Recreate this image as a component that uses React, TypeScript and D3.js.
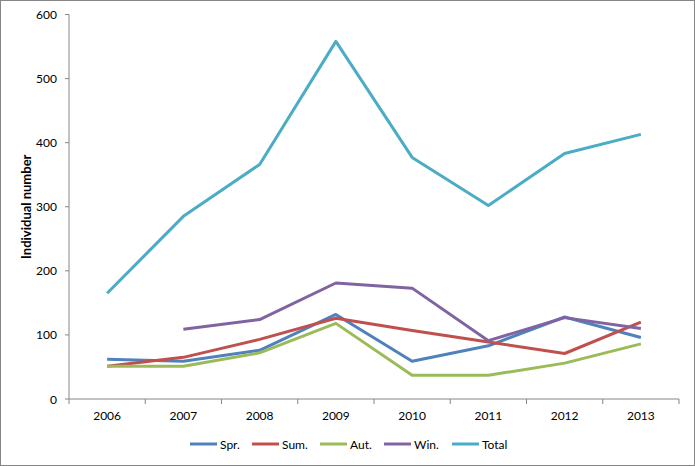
import React from "react";
import * as d3 from "d3";

const years = ["2006", "2007", "2008", "2009", "2010", "2011", "2012", "2013"];
const spr = [62, 59, 76, 132, 59, 83, 128, 96];
const sum = [51, 65, 93, 126, 107, 89, 71, 120];
const aut = [51, 51, 72, 118, 37, 37, 56, 86];
const win: (number | null)[] = [null, 109, 124, 181, 173, 91, 127, 110];
const total = [165, 285, 366, 558, 377, 302, 383, 413];
const yTicks = [0, 100, 200, 300, 400, 500, 600];

const seriesNames = ["Spr.", "Sum.", "Aut.", "Win.", "Total"];
const seriesColors = ["#4F81BD", "#C0504D", "#9BBB59", "#8064A2", "#4BACC6"];
const seriesData: (number | null)[][] = [spr, sum, aut, win, total];

const W = 695;
const H = 466;
const left = 69;
const right = 679;
const top = 14.5;
const bottom = 399;

export default function App() {
  const x = d3.scaleBand<string>().domain(years).range([left, right]);
  const y = d3.scaleLinear().domain([0, 600]).range([bottom, top]);
  const line = d3
    .line<number | null>()
    .defined((d) => d !== null)
    .x((_, i) => (x(years[i]) as number) + x.bandwidth() / 2)
    .y((d) => y(d as number));

  const font = "Lato, 'Open Sans', sans-serif";
  const axisColor = "#868686";
  const legendX = [190, 252, 320, 384, 452];

  return (
    <div style={{ position: "fixed", left: 0, top: 0 }}>
      <svg width={W} height={H} style={{ display: "block", background: "#fff" }}>
        <rect x={0.5} y={0.5} width={W - 1} height={H - 1} fill="#fff" stroke={axisColor} />
        {/* y axis */}
        <line x1={left} x2={left} y1={top} y2={bottom} stroke={axisColor} />
        {yTicks.map((t) => (
          <g key={t}>
            <line x1={left - 4} x2={left} y1={y(t)} y2={y(t)} stroke={axisColor} />
            <text
              x={57}
              y={y(t)}
              textAnchor="end"
              dominantBaseline="central"
              fontFamily={font}
              fontSize={12}
              fill="#000"
            >
              {t}
            </text>
          </g>
        ))}
        {/* x axis */}
        <line x1={left} x2={right} y1={bottom} y2={bottom} stroke={axisColor} />
        {[...years.map((yr) => x(yr) as number), right].map((px, i) => (
          <line key={i} x1={px} x2={px} y1={bottom} y2={bottom + 5} stroke={axisColor} />
        ))}
        {years.map((yr) => (
          <text
            key={yr}
            x={(x(yr) as number) + x.bandwidth() / 2}
            y={420}
            textAnchor="middle"
            fontFamily={font}
            fontSize={12}
            fill="#000"
          >
            {yr}
          </text>
        ))}
        <text
          transform={`translate(31,${(top + bottom) / 2}) rotate(-90)`}
          textAnchor="middle"
          fontFamily={font}
          fontSize={13}
          fontWeight="bold"
          fill="#000"
        >
          Individual number
        </text>
        {seriesData.map((s, i) => (
          <path
            key={seriesNames[i]}
            d={line(s) || ""}
            fill="none"
            stroke={seriesColors[i]}
            strokeWidth={3}
            strokeLinejoin="round"
          />
        ))}
        {seriesNames.map((n, i) => (
          <g key={n}>
            <line
              x1={legendX[i]}
              x2={legendX[i] + 27}
              y1={444}
              y2={444}
              stroke={seriesColors[i]}
              strokeWidth={3}
            />
            <text
              x={legendX[i] + 30}
              y={444}
              dominantBaseline="central"
              fontFamily={font}
              fontSize={12}
              fill="#000"
            >
              {n}
            </text>
          </g>
        ))}
      </svg>
    </div>
  );
}
